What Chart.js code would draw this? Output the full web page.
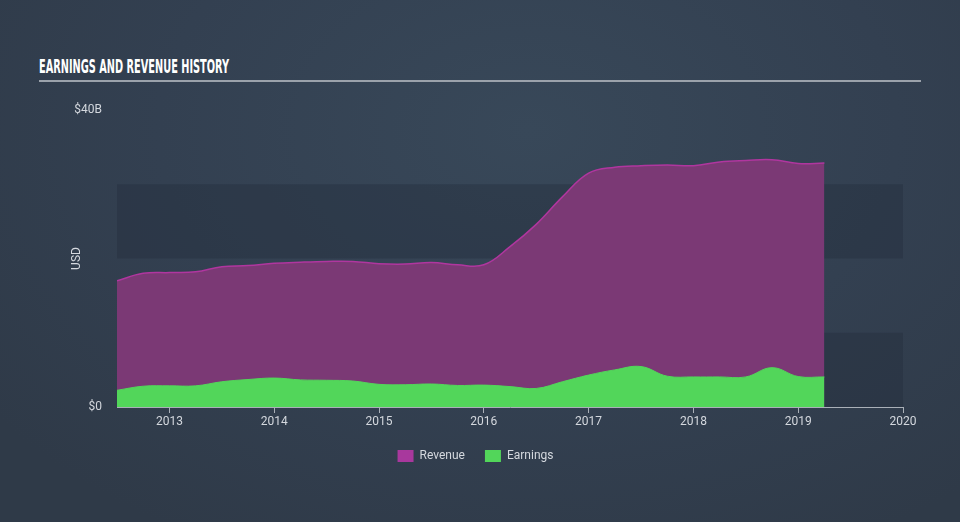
<!DOCTYPE html>
<html>
<head>
<meta charset="utf-8">
<script src="https://cdn.jsdelivr.net/npm/chart.js@4.4.1/dist/chart.umd.min.js"></script>
<style>
  html, body { margin: 0; padding: 0; }
  body {
    width: 960px; height: 522px; overflow: hidden; position: relative;
    background: radial-gradient(ellipse 70% 90% at 55% 25%, #384859 0%, #334051 55%, #2f3a48 100%);
  }
  #title {
    position: absolute; left: 39px; top: 55px; white-space: nowrap;
    font-family: "DejaVu Sans Condensed", "Liberation Sans Narrow", sans-serif;
    font-weight: bold; font-size: 19px; color: #ffffff;
    transform-origin: 0 0;
  }
  #rule {
    position: absolute; left: 39px; top: 80px; width: 882px; height: 2px;
    background: #9ba2ab;
  }
  #wrap { position: absolute; left: 0; top: 0; width: 960px; height: 522px; }
</style>
</head>
<body>
<div id="title">EARNINGS AND REVENUE HISTORY</div>
<div id="rule"></div>
<div id="wrap"><canvas id="myChart"></canvas></div>
<script>
// quarters (decimal years)
const quarters = [2012.5, 2012.75, 2013, 2013.25, 2013.5, 2013.75, 2014, 2014.25, 2014.5, 2014.75,
  2015, 2015.25, 2015.5, 2015.75, 2016, 2016.25, 2016.5, 2016.75, 2017, 2017.25,
  2017.5, 2017.75, 2018, 2018.25, 2018.5, 2018.75, 2019, 2019.25];

// $B
const revenue = [17.0, 18.0, 18.1, 18.2, 18.9, 19.05, 19.35, 19.5, 19.6, 19.6,
  19.3, 19.25, 19.45, 19.15, 19.15, 21.6, 24.6, 28.3, 31.5, 32.3,
  32.5, 32.6, 32.5, 33.0, 33.2, 33.3, 32.8, 32.85];

const earnings = [2.25, 2.8, 2.85, 2.85, 3.4, 3.7, 3.9, 3.65, 3.6, 3.5,
  3.05, 3.0, 3.1, 2.9, 2.95, 2.75, 2.5, 3.4, 4.3, 5.0,
  5.45, 4.15, 4.05, 4.05, 4.05, 5.3, 4.1, 4.05];

const xTicks = [2013, 2014, 2015, 2016, 2017, 2018, 2019, 2020];
const yTicks = [0, 40];
const yTickLabels = ['$0', '$40B'];
const bands = [[0, 10], [20, 30]];

// squeeze the heading to the condensed width of the original
const title = document.getElementById('title');
title.style.transform = 'scaleX(' + (190 / title.offsetWidth) + ')';

const tickFont = { family: 'Roboto', size: 12 };

const bandPlugin = {
  id: 'bands',
  beforeDatasetsDraw(chart) {
    const { ctx, chartArea, scales: { y } } = chart;
    ctx.save();
    ctx.fillStyle = 'rgba(36, 46, 60, 0.4)';
    bands.forEach(b => {
      const top = y.getPixelForValue(b[1]);
      const bottom = y.getPixelForValue(b[0]);
      ctx.fillRect(chartArea.left, top, chartArea.right - chartArea.left, bottom - top);
    });
    ctx.restore();
  }
};

const myChart = new Chart(document.getElementById('myChart'), {
  type: 'line',
  data: {
    datasets: [
      {
        label: 'Revenue',
        data: quarters.map((q, i) => ({ x: q, y: revenue[i] })),
        fill: 'origin',
        tension: 0.4,
        pointRadius: 0,
        borderWidth: 1.5,
        borderColor: '#b0369f',
        backgroundColor: '#7b3975',
        order: 2,
      },
      {
        label: 'Earnings',
        data: quarters.map((q, i) => ({ x: q, y: earnings[i] })),
        fill: 'origin',
        tension: 0.4,
        pointRadius: 0,
        borderWidth: 1,
        borderColor: '#52d65a',
        backgroundColor: '#52d65a',
        order: 1,
      },
    ],
  },
  options: {
    responsive: true,
    maintainAspectRatio: false,
    animation: false,
    layout: {
      padding: { top: 110, right: 57, bottom: 50, left: 48 },
    },
    plugins: {
      tooltip: { enabled: false },
      legend: {
        position: 'bottom',
        labels: {
          color: '#d4d8de',
          font: tickFont,
          boxWidth: 16,
          boxHeight: 12,
          padding: 20,
          generateLabels(chart) {
            return chart.data.datasets.map((ds, i) => ({
              text: ds.label,
              fillStyle: i === 0 ? '#a8389d' : '#52d65a',
              strokeStyle: 'transparent',
              lineWidth: 0,
              fontColor: '#d4d8de',
              datasetIndex: i,
            }));
          },
        },
      },
    },
    scales: {
      x: {
        type: 'linear',
        min: 2012.5,
        max: 2020,
        afterBuildTicks(scale) {
          scale.ticks = xTicks.map(v => ({ value: v }));
        },
        afterFit(scale) {
          scale.height = 23;
        },
        ticks: {
          color: '#d4d8de',
          font: tickFont,
          padding: 2,
          maxRotation: 0,
          callback: v => String(v),
        },
        grid: {
          drawOnChartArea: false,
          drawTicks: true,
          tickLength: 6,
          color: '#aab0b8',
        },
        border: { display: true, color: '#aab0b8', width: 1 },
      },
      y: {
        min: 0,
        max: 40,
        afterBuildTicks(scale) {
          scale.ticks = yTicks.map(v => ({ value: v }));
        },
        afterFit(scale) {
          scale.width = 69;
        },
        ticks: {
          color: '#d4d8de',
          font: tickFont,
          padding: 7,
          callback: v => yTickLabels[yTicks.indexOf(v)],
        },
        title: {
          display: true,
          text: 'USD',
          color: '#d4d8de',
          font: tickFont,
          padding: { top: 22, bottom: 0 },
        },
        grid: { display: false },
        border: { display: false },
      },
    },
  },
  plugins: [bandPlugin],
});
</script>
</body>
</html>
